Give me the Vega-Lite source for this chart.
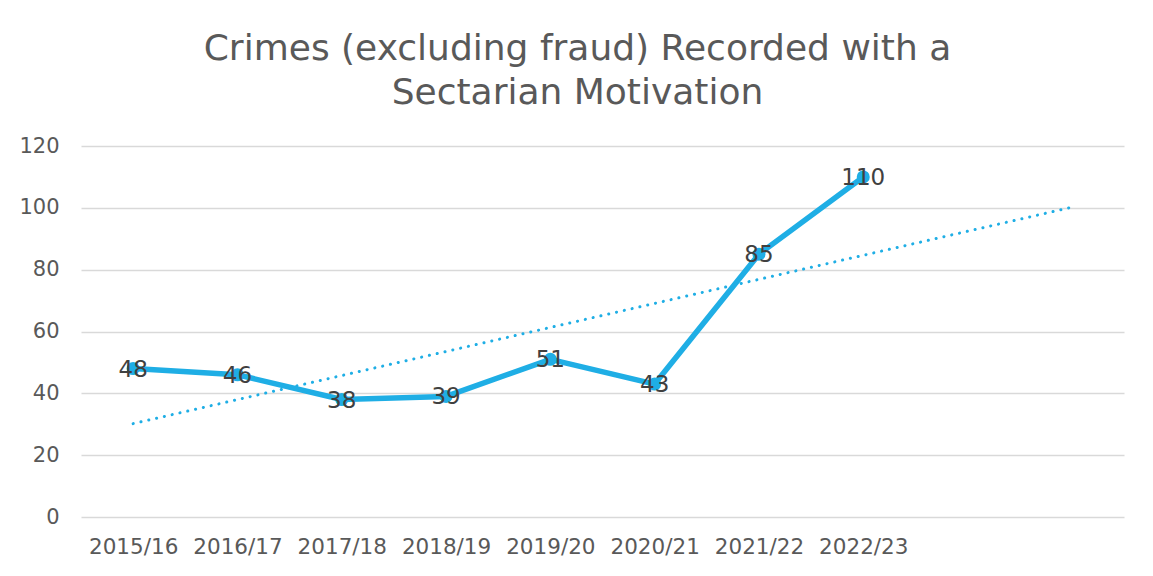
{
  "$schema": "https://vega.github.io/schema/vega-lite/v6.json",
  "width": 1043,
  "height": 371,
  "autosize": {"type": "none"},
  "padding": {"left": 81, "top": 146, "right": 29, "bottom": 59},
  "background": "white",
  "title": {
    "text": ["Crimes (excluding fraud) Recorded with a", "Sectarian Motivation"],
    "font": "DejaVu Sans",
    "fontSize": 36,
    "fontWeight": "normal",
    "color": "#595959",
    "anchor": "middle",
    "dx": -25,
    "lineHeight": 44,
    "offset": 23
  },
  "config": {"view": {"stroke": null}, "font": "DejaVu Sans"},
  "data": {
    "values": [
      {"period": "2015/16", "value": 48, "trend": 30.2},
      {"period": "2016/17", "value": 46},
      {"period": "2017/18", "value": 38},
      {"period": "2018/19", "value": 39},
      {"period": "2019/20", "value": 51},
      {"period": "2020/21", "value": 43},
      {"period": "2021/22", "value": 85},
      {"period": "2022/23", "value": 110},
      {"period": "2024/25", "trend": 100.2}
    ]
  },
  "encoding": {
    "x": {
      "field": "period",
      "type": "ordinal",
      "sort": null,
      "scale": {
        "type": "point",
        "padding": 0.5,
        "domain": ["2015/16", "2016/17", "2017/18", "2018/19", "2019/20", "2020/21", "2021/22", "2022/23", "2023/24", "2024/25"]
      },
      "axis": {
        "title": null,
        "ticks": false,
        "domain": false,
        "grid": false,
        "labelAngle": 0,
        "labelFontSize": 21.5,
        "labelColor": "#595959",
        "labelPadding": 19,
        "labelExpr": "datum.value == '2023/24' || datum.value == '2024/25' ? '' : datum.label"
      }
    }
  },
  "layer": [
    {
      "transform": [{"filter": "datum.trend != null"}],
      "mark": {"type": "line", "color": "#1FAEE5", "strokeWidth": 3, "strokeDash": [0.1, 7.9], "strokeCap": "round"},
      "encoding": {
        "y": {
          "field": "trend",
          "type": "quantitative",
          "scale": {"domain": [0, 120]},
          "axis": {
            "title": null,
            "values": [0, 20, 40, 60, 80, 100, 120],
            "grid": true,
            "gridColor": "#D9D9D9",
            "gridWidth": 1.5,
            "ticks": false,
            "domain": false,
            "labelFontSize": 21,
            "labelColor": "#595959",
            "labelPadding": 22
          }
        }
      }
    },
    {
      "transform": [{"filter": "datum.value != null"}],
      "mark": {"type": "line", "color": "#1FAEE5", "strokeWidth": 5.5, "strokeJoin": "round"},
      "encoding": {"y": {"field": "value", "type": "quantitative"}}
    },
    {
      "transform": [{"filter": "datum.value != null"}],
      "mark": {"type": "point", "shape": "circle", "filled": true, "opacity": 1, "color": "#1FAEE5", "size": 170},
      "encoding": {"y": {"field": "value", "type": "quantitative"}}
    },
    {
      "transform": [{"filter": "datum.value != null"}],
      "mark": {"type": "text", "fontSize": 23, "color": "#404040", "baseline": "middle", "align": "center", "dy": 1},
      "encoding": {
        "y": {"field": "value", "type": "quantitative"},
        "text": {"field": "value", "type": "quantitative"}
      }
    }
  ]
}
